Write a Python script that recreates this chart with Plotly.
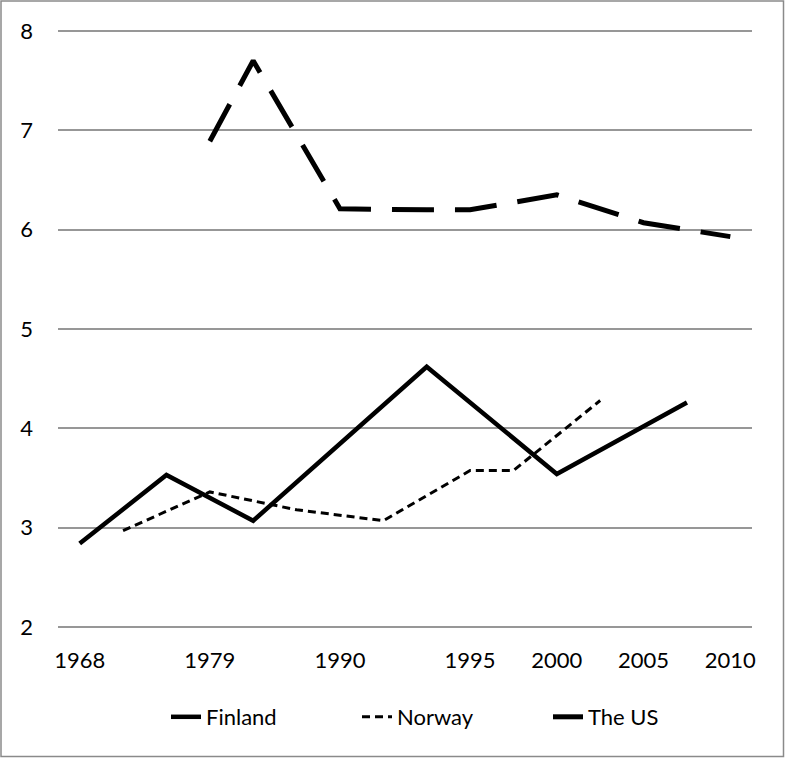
import plotly.graph_objects as go

# Category positions (16 evenly spaced categories) and the labelled ones
tick_positions = [0, 3, 6, 9, 11, 13, 15]
tick_labels = ["1968", "1979", "1990", "1995", "2000", "2005", "2010"]
y_ticks = [2, 3, 4, 5, 6, 7, 8]

finland_x = [0, 2, 4, 8, 11, 14]
finland_y = [2.84, 3.53, 3.07, 4.62, 3.54, 4.26]

norway_x = [1, 3, 5, 7, 9, 10, 12]
norway_y = [2.97, 3.36, 3.18, 3.07, 3.575, 3.575, 4.28]

us_x = [3, 4, 6, 7, 8, 9, 11, 13, 15]
us_y = [6.89, 7.70, 6.21, 6.20, 6.20, 6.20, 6.35, 6.07, 5.93]

FONT = "Lato"
W, H = 785, 758
ML, MR, MT, MB = 58, 33, 29, 129
PW, PH = W - ML - MR, H - MT - MB

fig = go.Figure()
fig.add_trace(go.Scatter(x=finland_x, y=finland_y, mode="lines", name="Finland",
                         line=dict(color="black", width=4.5)))
fig.add_trace(go.Scatter(x=norway_x, y=norway_y, mode="lines", name="Norway",
                         line=dict(color="black", width=3, dash="8px,5px")))
fig.add_trace(go.Scatter(x=us_x, y=us_y, mode="lines", name="The US",
                         line=dict(color="black", width=5, dash="42px,21px")))

fig.update_layout(
    width=W, height=H,
    margin=dict(l=ML, r=MR, t=MT, b=MB, autoexpand=False),
    paper_bgcolor="white", plot_bgcolor="white",
    font=dict(family=FONT, size=22, color="black"),
    showlegend=True,
    legend=dict(orientation="h", xref="container", yref="container",
                x=166 / W, xanchor="left", y=41 / H, yanchor="middle",
                font=dict(family=FONT, size=22, color="black"),
                entrywidth=146, entrywidthmode="pixels",
                itemwidth=30, tracegroupgap=0),
    xaxis=dict(range=[-0.5, 15.5], tickmode="array", tickvals=tick_positions,
               ticktext=tick_labels, showgrid=False, zeroline=False,
               showline=False, ticks="", ticklabelstandoff=16, automargin=False),
    yaxis=dict(range=[1.98, 8.02], tickvals=y_ticks,
               showgrid=True, gridcolor="#979797",
               gridwidth=1.5, zeroline=False, showline=False, ticks="",
               ticklabelstandoff=24, automargin=False),
    shapes=[dict(type="rect", xref="paper", yref="paper",
                 x0=-(ML - 1) / PW, x1=1 + (MR - 1.5) / PW,
                 y0=-(MB - 1.5) / PH, y1=1 + (MT - 1) / PH,
                 line=dict(color="#8a8a8a", width=1.5), layer="below")],
)

fig.write_html("out.html", config={"displayModeBar": False},
               post_script="document.body.style.margin='0';")
